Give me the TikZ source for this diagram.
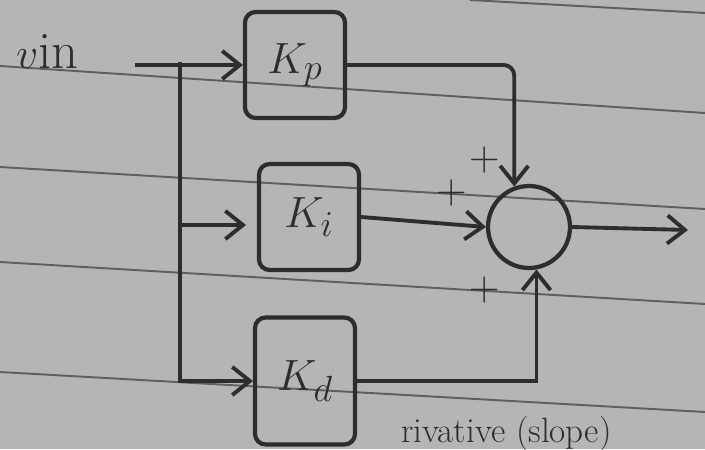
\documentclass[tikz,border=0pt]{standalone}
\usetikzlibrary{arrows.meta}
\definecolor{paper}{RGB}{181,181,179}
\definecolor{ink}{RGB}{45,45,45}
\definecolor{ruleink}{RGB}{95,95,95}
\begin{document}
\begin{tikzpicture}[x=0.02cm, y=-0.02cm,
    block/.style={draw=ink, line width=2.4pt, rounded corners=6pt, minimum width=2cm,
      minimum height=2.12cm, text=ink, font=\fontsize{30}{34}\selectfont},
    summer/.style={draw=ink, circle, line width=2.4pt, minimum size=1.64cm, inner sep=0pt},
    wire/.style={draw=ink, line width=2.2pt},
    sig/.style={wire, -{Straight Barb[length=10pt, width=16pt, line width=2.2pt]}},
    sign/.style={text=ink, font=\fontsize{24}{26}\selectfont},
    ruled/.style={draw=ruleink, line width=1.1pt}]
    % paper and its ruled lines
    \fill[paper] (0,0) rectangle (705,449);
    \useasboundingbox (0,0) rectangle (705,449);
    \draw[ruled] (470,0) -- (705,13);
    \draw[ruled] (0,66) -- (705,113);
    \draw[ruled] (0,167) -- (705,209);
    \draw[ruled] (0,262) -- (705,304);
    \draw[ruled] (0,372) -- (705,412);

    % input and gain blocks
    \node[anchor=west, text=ink, font=\fontsize{30}{34}\selectfont] (vin) at (10,52) {$v$in};
    \node[block] (kp) at (295,65) {$K_p$};
    \node[block] (ki) at (309,217) {$K_i$};
    \node[block, minimum height=2.54cm] (kd) at (305,381) {$K_d$};
    \node[summer] (sum) at (529,227) {};

    % signs at the summing junction
    \node[sign] (pp) at (485,160) {+};
    \node[sign] (pi) at (452,193) {+};
    \node[sign] (pd) at (485,290) {+};

    \coordinate (vstart) at (135,65);
    \coordinate (tap) at (180,62);
    \coordinate (tapi) at (180,225);
    \coordinate (kiin) at (246,225);
    \coordinate (vout) at (688,230);

    % branches
    \draw[sig] (vstart) -- (kp.west);
    \draw[sig] (tap) |- (kd.west);
    \draw[sig] (tapi) -- (kiin);

    % into the sum
    \draw[sig, rounded corners=6pt] (kp.east) -| (sum.110);
    \draw[sig] (ki.east) -- (sum.west);
    \draw[sig] (kd.east) -| (sum.-80);
    \draw[sig] (sum.east) -- (vout);

    % note at the foot
    \node[anchor=north west, text=ink, font=\fontsize{20}{22}\selectfont] (note) at (395,410) {rivative (slope)};
\end{tikzpicture}
\end{document}
